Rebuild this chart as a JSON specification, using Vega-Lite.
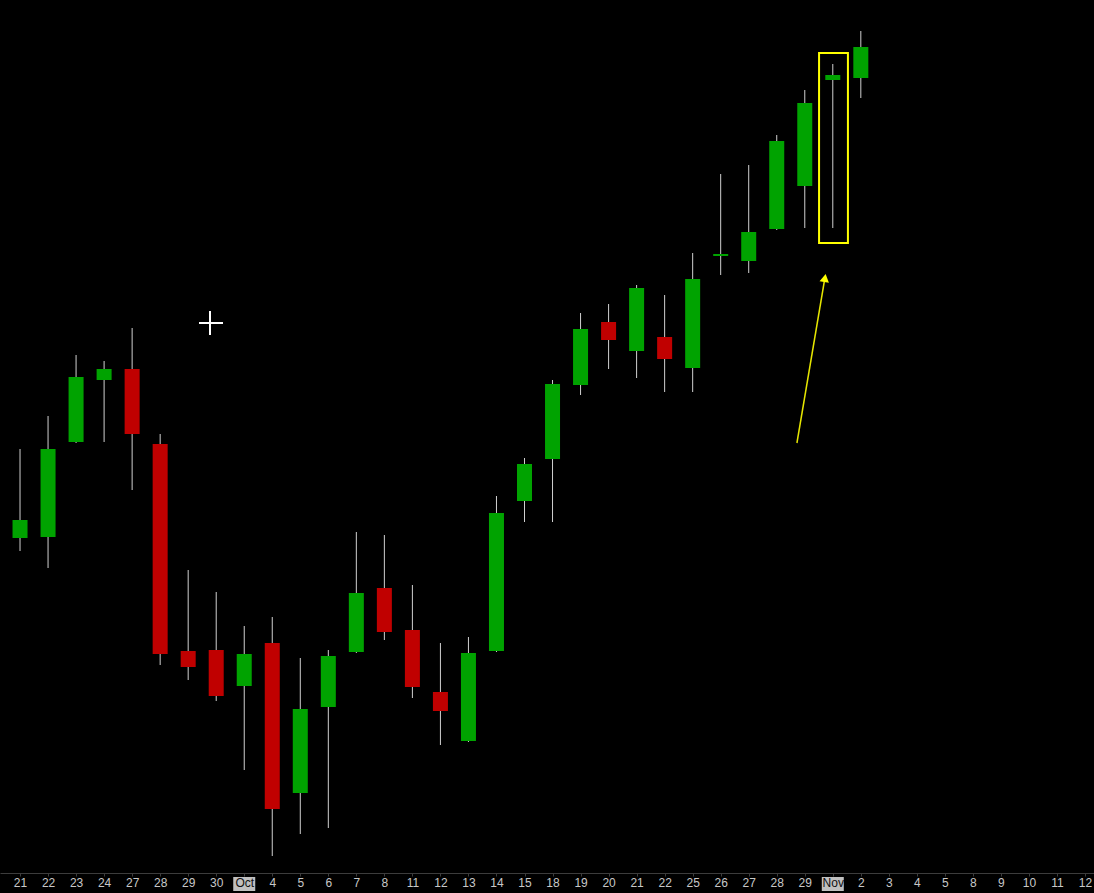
{
  "$schema": "https://vega.github.io/schema/vega-lite/v6.json",
  "width": 1094,
  "height": 873,
  "autosize": {"type": "none"},
  "padding": {"left": 0, "right": 0, "top": 0, "bottom": 20},
  "background": "#000000",
  "config": {"view": {"stroke": null}},
  "datasets": {
    "candles": [
      {"i": 0, "date": "2021-09-20", "open": 148.6, "high": 149.3, "low": 133.8, "close": 134.5},
      {"i": 1, "date": "2021-09-21", "open": 133.5, "high": 142.4, "low": 132.2, "close": 135.3},
      {"i": 2, "date": "2021-09-22", "open": 133.6, "high": 145.7, "low": 130.5, "close": 142.4},
      {"i": 3, "date": "2021-09-23", "open": 143.1, "high": 151.8, "low": 143.0, "close": 149.6},
      {"i": 4, "date": "2021-09-24", "open": 149.3, "high": 151.2, "low": 143.1, "close": 150.4},
      {"i": 5, "date": "2021-09-27", "open": 150.4, "high": 154.5, "low": 138.3, "close": 143.9},
      {"i": 6, "date": "2021-09-28", "open": 142.9, "high": 143.9, "low": 120.8, "close": 121.9},
      {"i": 7, "date": "2021-09-29", "open": 122.2, "high": 130.3, "low": 119.3, "close": 120.6},
      {"i": 8, "date": "2021-09-30", "open": 122.3, "high": 128.1, "low": 117.2, "close": 117.7},
      {"i": 9, "date": "2021-10-01", "open": 118.7, "high": 124.7, "low": 110.3, "close": 121.9},
      {"i": 10, "date": "2021-10-04", "open": 123.0, "high": 125.6, "low": 101.7, "close": 106.4},
      {"i": 11, "date": "2021-10-05", "open": 108.0, "high": 121.5, "low": 103.9, "close": 116.4},
      {"i": 12, "date": "2021-10-06", "open": 116.6, "high": 122.3, "low": 104.5, "close": 121.7},
      {"i": 13, "date": "2021-10-07", "open": 122.1, "high": 134.1, "low": 122.0, "close": 128.0},
      {"i": 14, "date": "2021-10-08", "open": 128.5, "high": 133.8, "low": 123.3, "close": 124.1},
      {"i": 15, "date": "2021-10-11", "open": 124.3, "high": 128.8, "low": 117.5, "close": 118.6},
      {"i": 16, "date": "2021-10-12", "open": 118.1, "high": 123.0, "low": 112.8, "close": 116.2},
      {"i": 17, "date": "2021-10-13", "open": 113.2, "high": 123.6, "low": 113.1, "close": 122.0},
      {"i": 18, "date": "2021-10-14", "open": 122.2, "high": 137.7, "low": 122.1, "close": 136.0},
      {"i": 19, "date": "2021-10-15", "open": 137.2, "high": 141.5, "low": 135.1, "close": 140.9},
      {"i": 20, "date": "2021-10-18", "open": 141.4, "high": 149.3, "low": 135.1, "close": 148.9},
      {"i": 21, "date": "2021-10-19", "open": 148.8, "high": 156.0, "low": 147.8, "close": 154.4},
      {"i": 22, "date": "2021-10-20", "open": 155.1, "high": 156.9, "low": 150.4, "close": 153.3},
      {"i": 23, "date": "2021-10-21", "open": 152.2, "high": 158.8, "low": 149.5, "close": 158.5},
      {"i": 24, "date": "2021-10-22", "open": 153.6, "high": 157.8, "low": 148.1, "close": 151.4},
      {"i": 25, "date": "2021-10-25", "open": 150.5, "high": 162.0, "low": 148.1, "close": 159.4},
      {"i": 26, "date": "2021-10-26", "open": 161.7, "high": 169.9, "low": 159.8, "close": 161.9},
      {"i": 27, "date": "2021-10-27", "open": 161.2, "high": 170.8, "low": 160.0, "close": 164.1},
      {"i": 28, "date": "2021-10-28", "open": 164.4, "high": 173.8, "low": 164.3, "close": 173.2},
      {"i": 29, "date": "2021-10-29", "open": 168.7, "high": 178.3, "low": 164.5, "close": 177.0},
      {"i": 30, "date": "2021-11-01", "open": 179.3, "high": 180.9, "low": 164.5, "close": 179.8},
      {"i": 31, "date": "2021-11-02", "open": 179.5, "high": 184.2, "low": 177.5, "close": 182.6}
    ],
    "monthLabels": [{"i": 9, "label": "Oct"}, {"i": 30, "label": "Nov"}],
    "box": [{"x1": 29.51, "x2": 30.54, "y1": 163.0, "y2": 182.0}],
    "arrow": [{"x1": 28.72, "y1": 143.0, "x2": 29.70, "y2": 159.2}],
    "arrowHead": [{"x": 29.72, "y": 159.5}],
    "cursor": [
      {"x1": 7.386, "x2": 8.242, "y1": 155.0, "y2": 155.0},
      {"x1": 7.778, "x2": 7.778, "y1": 153.8, "y2": 156.2}
    ]
  },
  "encoding": {
    "x": {
      "type": "quantitative",
      "scale": {"domain": [0.2855, 39.32], "nice": false, "zero": false, "padding": 0},
      "axis": {
        "orient": "bottom",
        "values": [1,2,3,4,5,6,7,8,9,10,11,12,13,14,15,16,17,18,19,20,21,22,23,24,25,26,27,28,29,30,31,32,33,34,35,36,37,38,39],
        "labelExpr": "['20','21','22','23','24','27','28','29','30','Oct','4','5','6','7','8','11','12','13','14','15','18','19','20','21','22','25','26','27','28','29','Nov','2','3','4','5','8','9','10','11','12'][datum.value]",
        "labelColor": {"condition": {"test": "datum.value == 9 || datum.value == 30", "value": "#111111"}, "value": "#c8c8c8"},
        "labelFont": "Liberation Sans",
        "labelFontSize": 12,
        "labelPadding": 1,
        "labelFlush": false,
        "labelOverlap": false,
        "labelBound": false,
        "tickSize": 3,
        "tickColor": "#3c3c3c",
        "domainColor": "#3c3c3c",
        "grid": false,
        "title": null,
        "zindex": 1
      }
    },
    "y": {"type": "quantitative", "scale": {"domain": [100, 187.3], "nice": false, "zero": false, "padding": 0}, "axis": null}
  },
  "layer": [
    {
      "data": {"name": "monthLabels"},
      "mark": {"type": "bar", "width": 22, "color": "#c0c0c0", "clip": false},
      "encoding": {
        "x": {"field": "i", "type": "quantitative"},
        "y": {"value": 877},
        "y2": {"value": 891}
      }
    },
    {
      "data": {"name": "candles"},
      "mark": {"type": "rule", "color": "#d0d0d0", "strokeWidth": 1},
      "encoding": {
        "x": {"field": "i", "type": "quantitative"},
        "y": {"field": "low", "type": "quantitative"},
        "y2": {"field": "high"}
      }
    },
    {
      "data": {"name": "candles"},
      "mark": {"type": "bar", "width": 15},
      "encoding": {
        "x": {"field": "i", "type": "quantitative"},
        "y": {"field": "open", "type": "quantitative"},
        "y2": {"field": "close"},
        "color": {"condition": {"test": "datum.close > datum.open", "value": "#00a300"}, "value": "#c00000"}
      }
    },
    {
      "data": {"name": "box"},
      "mark": {"type": "rect", "fill": null, "fillOpacity": 0, "stroke": "#ffff00", "strokeWidth": 2},
      "encoding": {
        "x": {"field": "x1", "type": "quantitative"},
        "x2": {"field": "x2"},
        "y": {"field": "y1", "type": "quantitative"},
        "y2": {"field": "y2"}
      }
    },
    {
      "data": {"name": "arrow"},
      "mark": {"type": "rule", "color": "#e6e600", "strokeWidth": 1.5},
      "encoding": {
        "x": {"field": "x1", "type": "quantitative"},
        "x2": {"field": "x2"},
        "y": {"field": "y1", "type": "quantitative"},
        "y2": {"field": "y2"}
      }
    },
    {
      "data": {"name": "arrowHead"},
      "mark": {"type": "point", "shape": "triangle-up", "filled": true, "size": 90, "angle": 10, "color": "#ffff00", "opacity": 1},
      "encoding": {
        "x": {"field": "x", "type": "quantitative"},
        "y": {"field": "y", "type": "quantitative"}
      }
    },
    {
      "data": {"name": "cursor"},
      "mark": {"type": "rule", "color": "#ffffff", "strokeWidth": 2},
      "encoding": {
        "x": {"field": "x1", "type": "quantitative"},
        "x2": {"field": "x2"},
        "y": {"field": "y1", "type": "quantitative"},
        "y2": {"field": "y2"}
      }
    }
  ]
}
